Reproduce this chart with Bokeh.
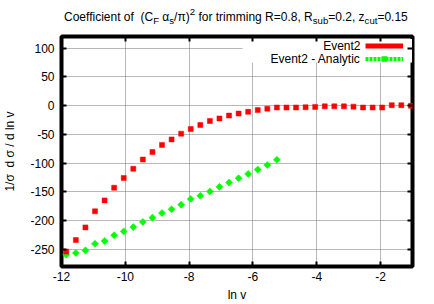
import math
from bokeh.plotting import figure
from bokeh.layouts import column
from bokeh.models import (FixedTicker, LinearAxis, Label, Legend, LegendItem,
                          BoxAnnotation, ColumnDataSource, Range1d, Div)
from bokeh.embed import file_html
from bokeh.resources import INLINE

# ---------------- data ----------------
lnv_event2 = [-11.85, -11.55, -11.25, -10.95, -10.65, -10.35, -10.05, -9.75,
              -9.45, -9.15, -8.85, -8.55, -8.25, -7.95, -7.65, -7.35, -7.05,
              -6.75, -6.45, -6.15, -5.85, -5.55, -5.25, -4.95, -4.65, -4.35,
              -4.05, -3.75, -3.45, -3.15, -2.85, -2.55, -2.25, -1.95, -1.65,
              -1.35, -1.05]
event2 = [-254, -234, -212, -184, -165, -143, -126, -110, -94, -81, -68.5,
          -59, -49, -41, -34, -27, -22.5, -17.5, -14, -11, -8, -5.5, -3.5,
          -3.5, -3.5, -3, -2.5, -1.5, -1.5, -1.5, -2, -3.5, -3.5, -3.5, 0.5,
          0.5, -0.5]
lnv_analytic = [-11.85, -11.55, -11.25, -10.95, -10.65, -10.35, -10.05,
                -9.75, -9.45, -9.15, -8.85, -8.55, -8.25, -7.95, -7.65, -7.35,
                -7.05, -6.75, -6.45, -6.15, -5.85, -5.55, -5.25]
analytic = [-259.5, -256.5, -252, -240.5, -235.5, -225.5, -219, -211.5,
            -202.5, -195, -187, -180.5, -172.5, -162.5, -157, -149.5, -141.5,
            -134, -126.5, -119, -111.5, -103.5, -94.5]
x_ticks = [-12, -10, -8, -6, -4, -2]
y_ticks = [-250, -200, -150, -100, -50, 0, 50, 100]
series_names = ["Event2", "Event2 - Analytic"]
x_label = "ln v"
y_label = "1/σ\u00a0\u00a0d σ / d ln v"

FONT = "Liberation Sans"
FS = 12
W = 434
TITLE_H = 28
H = 304 - TITLE_H
ML, MR, MT, MB = 59, 22, 8, 38
FW = W - ML - MR
FH = H - MT - MB

# ---------------- title (HTML so sub/superscripts are real text) -------------
sub = "font-size:9.6px;position:relative;top:3px;line-height:0"
sup = "font-size:9.6px;position:relative;top:-6px;line-height:0"
title_html = (
    f'<div style="font-family:\'{FONT}\';font-size:{FS}px;line-height:14px;'
    f'padding:10px 0 0 64px;margin:0;white-space:nowrap;color:black">'
    f'Coefficient of&nbsp; (C<span style="{sub}">F</span> α<span style="{sub}">s</span>/π)'
    f'<span style="{sup}">2</span> for trimming R=0.8, R<span style="{sub}">sub</span>'
    f'=0.2, z<span style="{sub}">cut</span>=0.15</div>')
title = Div(text=title_html, width=W, height=TITLE_H, margin=0)

# ---------------- figure ----------------
p = figure(width=W, height=H, x_range=Range1d(-12, -1), y_range=Range1d(-280, 120),
           output_backend="svg", toolbar_location=None, margin=0,
           min_border_left=ML, min_border_right=MR, min_border_top=MT,
           min_border_bottom=MB)
p.background_fill_color = "white"
p.border_fill_color = "white"
p.outline_line_color = "black"
p.outline_line_width = 4
p.extra_y_ranges = {"key": Range1d(start=1000, end=1001)}

bottom_axis = p.below[0]
left_axis = p.left[0]
top_axis = LinearAxis()
right_axis = LinearAxis()
p.add_layout(top_axis, "above")
p.add_layout(right_axis, "right")

for ax in [bottom_axis, top_axis]:
    ax.ticker = FixedTicker(ticks=x_ticks)
    ax.major_label_overrides = {t: str(t) for t in x_ticks}
for ax in [left_axis, right_axis]:
    ax.ticker = FixedTicker(ticks=y_ticks)
    ax.major_label_overrides = {t: str(t) for t in y_ticks}

for ax in [bottom_axis, left_axis, top_axis, right_axis]:
    ax.axis_line_color = None
    ax.major_tick_in = 5
    ax.major_tick_out = 0
    ax.major_tick_line_width = 2
    ax.major_tick_line_color = "black"
    ax.minor_tick_line_color = None
    ax.major_label_text_font = FONT
    ax.major_label_text_font_size = f"{FS}px"
    ax.major_label_text_color = "black"
    ax.axis_label_text_font = FONT
    ax.axis_label_text_font_size = f"{FS}px"
    ax.axis_label_text_font_style = "normal"
    ax.axis_label_text_color = "black"
for ax in [top_axis, right_axis]:
    ax.major_label_text_font_size = "1px"
    ax.major_label_text_color = None
    ax.major_label_standoff = 0
bottom_axis.major_label_standoff = 5
left_axis.major_label_standoff = 7
bottom_axis.axis_label = x_label
bottom_axis.axis_label_standoff = 4
left_axis.axis_label = y_label
left_axis.axis_label_standoff = 10

for g in [p.xgrid[0], p.ygrid[0]]:
    g.grid_line_color = "#707070"
    g.grid_line_dash = "1 1"
    g.grid_line_width = 1

# white key background (hides the grid under the key)
p.add_layout(BoxAnnotation(left=181, right=FW - 2.5, bottom=204, top=FH - 2.5,
                           left_units="screen", right_units="screen",
                           bottom_units="screen", top_units="screen",
                           fill_color="white", fill_alpha=1, line_color=None,
                           level="underlay"))

src_e = ColumnDataSource(dict(x=lnv_event2, y=event2))
src_a = ColumnDataSource(dict(x=lnv_analytic, y=analytic))
r_a = p.scatter("x", "y", source=src_a, marker="square", angle=math.pi / 4,
                size=5, fill_color="#00ff00", line_color="#00ff00", line_width=0.5)
r_e = p.scatter("x", "y", source=src_e, marker="square", size=5,
                fill_color="#ff0000", line_color="#ff0000", line_width=0.5)

# key samples: lines mapped to an off-screen range so they appear only in the key
k_red = p.line("x", "y", source=src_e, y_range_name="key",
               line_color="#ff0000", line_width=5)
k_green = p.line("x", "y", source=src_a, y_range_name="key",
                 line_color="#00ff00", line_width=4, line_dash="3 1")
legend = Legend(items=[LegendItem(label=" ", renderers=[k_red]),
                       LegendItem(label=" ", renderers=[k_green, r_a])],
                location=(303.5, 201.2), margin=0, padding=0, spacing=0,
                glyph_width=38, glyph_height=13, label_height=13,
                label_width=0, label_standoff=0, label_text_font_size="1px",
                label_text_color=None,
                border_line_color=None, background_fill_alpha=0)
p.add_layout(legend, "center")
for i, name in enumerate(series_names):
    p.add_layout(Label(x=299, y=220.3 - 12.6 * i, x_units="screen", y_units="screen",
                       text=name, text_align="right", text_baseline="middle",
                       text_font=FONT, text_font_size=f"{FS}px", text_color="black"))

layout = column(title, p, spacing=0, margin=0)
open("out.html", "w").write(file_html(layout, INLINE))
